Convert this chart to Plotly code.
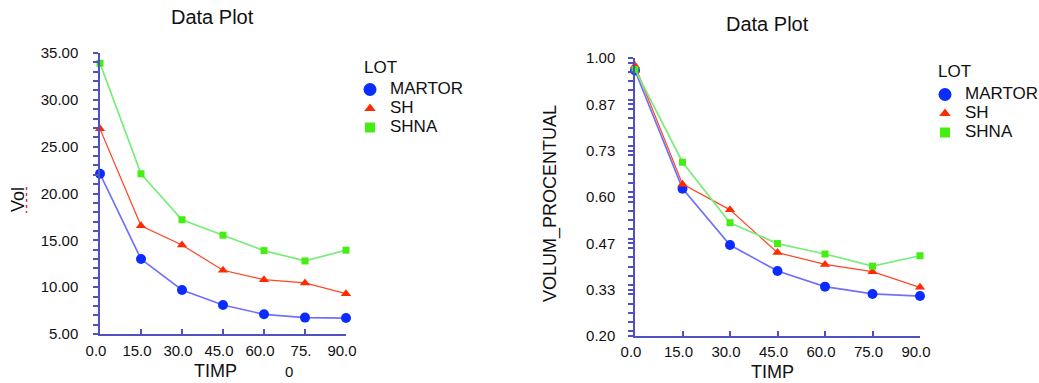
import plotly.graph_objects as go

# ---- data ----
timp = [0, 15, 30, 45, 60, 75, 90]
lots = ["MARTOR", "SH", "SHNA"]

vol_martor = [22.1, 13.0, 9.7, 8.1, 7.1, 6.75, 6.7]
vol_sh = [26.9, 16.55, 14.5, 11.8, 10.8, 10.45, 9.3]
vol_shna = [33.9, 22.1, 17.2, 15.55, 13.9, 12.8, 13.95]

proc_martor = [0.964, 0.624, 0.462, 0.387, 0.342, 0.321, 0.315]
proc_sh = [0.978, 0.637, 0.563, 0.440, 0.406, 0.385, 0.340]
proc_shna = [0.967, 0.700, 0.526, 0.466, 0.436, 0.401, 0.431]

left_xticks = [0, 15, 30, 45, 60, 75, 90]
left_xticktext = ["0.0", "15.0", "30.0", "45.0", "60.0", "75.", "90.0"]
right_xticktext = ["0.0", "15.0", "30.0", "45.0", "60.0", "75.0", "90.0"]

# ---- styles ----
W, H = 1039, 383
FONT = "Arial, 'Liberation Sans', sans-serif"
AX = "#5050c0"
line_cols = ["#7070ff", "#ff4422", "#77ee77"]
mark_cols = ["#0a2cff", "#ff2a00", "#44ee11"]
symbols = ["circle", "triangle-up", "square"]
plot_sizes = [10, 9, 7]
leg_sizes = [13, 10, 10]


def px(x):
    return x / W


def py(y):
    return 1 - y / H


fig = go.Figure()

left_series = [vol_martor, vol_sh, vol_shna]
right_series = [proc_martor, proc_sh, proc_shna]

for i, name in enumerate(lots):
    fig.add_trace(go.Scatter(
        x=timp, y=left_series[i], mode="lines+markers", xaxis="x", yaxis="y",
        line=dict(color=line_cols[i], width=1.7 if i != 1 else 1.2),
        marker=dict(color=mark_cols[i], symbol=symbols[i], size=plot_sizes[i]),
        showlegend=False, cliponaxis=False))
for i, name in enumerate(lots):
    fig.add_trace(go.Scatter(
        x=timp, y=right_series[i], mode="lines+markers", xaxis="x2", yaxis="y2",
        line=dict(color=line_cols[i], width=1.7 if i != 1 else 1.2),
        marker=dict(color=mark_cols[i], symbol=symbols[i], size=plot_sizes[i]),
        showlegend=False, cliponaxis=False))

# legend-only entries (markers only)
for leg, xa, ya in [("legend", "x", "y"), ("legend2", "x2", "y2")]:
    for i, name in enumerate(lots):
        fig.add_trace(go.Scatter(
            x=[None], y=[None], mode="markers", xaxis=xa, yaxis=ya,
            name='<span style="font-size:17px">%s</span>' % name,
            marker=dict(color=mark_cols[i], symbol=symbols[i], size=leg_sizes[i]),
            legend=leg, showlegend=True))

axis_common = dict(showgrid=False, zeroline=False, showline=True, linecolor=AX,
                   linewidth=1.5, tickcolor=AX, tickwidth=1.5, automargin=False,
                   tickfont=dict(family=FONT, size=15, color="#111"))

fig.update_layout(
    width=W, height=H, margin=dict(l=0, r=0, t=0, b=0, pad=0, autoexpand=False),
    paper_bgcolor="white", plot_bgcolor="white",
    font=dict(family=FONT, color="#111"),
    xaxis=dict(domain=[px(100), px(346)], range=[0, 90], anchor="y",
               tickmode="array", tickvals=left_xticks, ticktext=left_xticktext,
               ticks="inside", ticklen=5, ticklabelshift=-4, ticklabelstandoff=2,
               **axis_common),
    yaxis=dict(domain=[py(334), py(53)], range=[5, 35], anchor="x",
               tickmode="linear", tick0=5, dtick=5, tickformat=".2f",
               ticks="outside", ticklen=5, ticklabelstandoff=12,
               minor=dict(dtick=1, ticks="outside", ticklen=5, tickcolor=AX, tickwidth=1.5),
               **axis_common),
    xaxis2=dict(domain=[px(635), px(920)], range=[0, 90], anchor="y2",
                tickmode="array", tickvals=left_xticks, ticktext=right_xticktext,
                ticks="inside", ticklen=5, ticklabelshift=-4, ticklabelstandoff=1,
                **axis_common),
    yaxis2=dict(domain=[py(336), py(58)], range=[0.2, 1.0], anchor="x2",
                tickmode="linear", tick0=0.2, dtick=0.8 / 6, tickformat=".2f",
                ticks="outside", ticklen=5, ticklabelstandoff=10,
                minor=dict(dtick=0.8 / 30, ticks="outside", ticklen=5, tickcolor=AX, tickwidth=1.5),
                **axis_common),
    legend=dict(x=px(350), xanchor="left", y=py(75), yanchor="top",
                font=dict(family=FONT, size=12, color="#111"),
                itemwidth=30, bgcolor="rgba(0,0,0,0)", tracegroupgap=0),
    legend2=dict(x=px(925), xanchor="left", y=py(80), yanchor="top",
                 font=dict(family=FONT, size=12, color="#111"),
                 itemwidth=30, bgcolor="rgba(0,0,0,0)", tracegroupgap=0),
)

ann = [
    dict(text="Data Plot", x=px(212), y=py(17), size=20, angle=0, xa="center"),
    dict(text="Data Plot", x=px(767), y=py(24), size=20, angle=0, xa="center"),
    dict(text="Vol", x=px(18), y=py(200), size=18, angle=-90, xa="center"),
    dict(text="VOLUM_PROCENTUAL", x=px(550), y=py(204), size=18, angle=-90, xa="center"),
    dict(text="TIMP", x=px(215), y=py(371), size=18, angle=0, xa="center"),
    dict(text="TIMP", x=px(772), y=py(372), size=18, angle=0, xa="center"),
    dict(text="0", x=px(289), y=py(371), size=15, angle=0, xa="center"),
    dict(text="LOT", x=px(362), y=py(67), size=17, angle=0, xa="left"),
    dict(text="LOT", x=px(936), y=py(71), size=17, angle=0, xa="left"),
]
for a in ann:
    fig.add_annotation(text=a["text"], x=a["x"], y=a["y"], xref="paper", yref="paper",
                       xanchor=a["xa"], yanchor="middle", textangle=a["angle"],
                       showarrow=False, font=dict(family=FONT, size=a["size"], color="#111"))

# spell-check squiggle next to "Vol"
fig.add_shape(type="line", xref="paper", yref="paper",
              x0=px(26.5), x1=px(26.5), y0=py(187), y1=py(213),
              line=dict(color="#e03030", width=1.5, dash="dot"))

fig.write_html("out.html")
